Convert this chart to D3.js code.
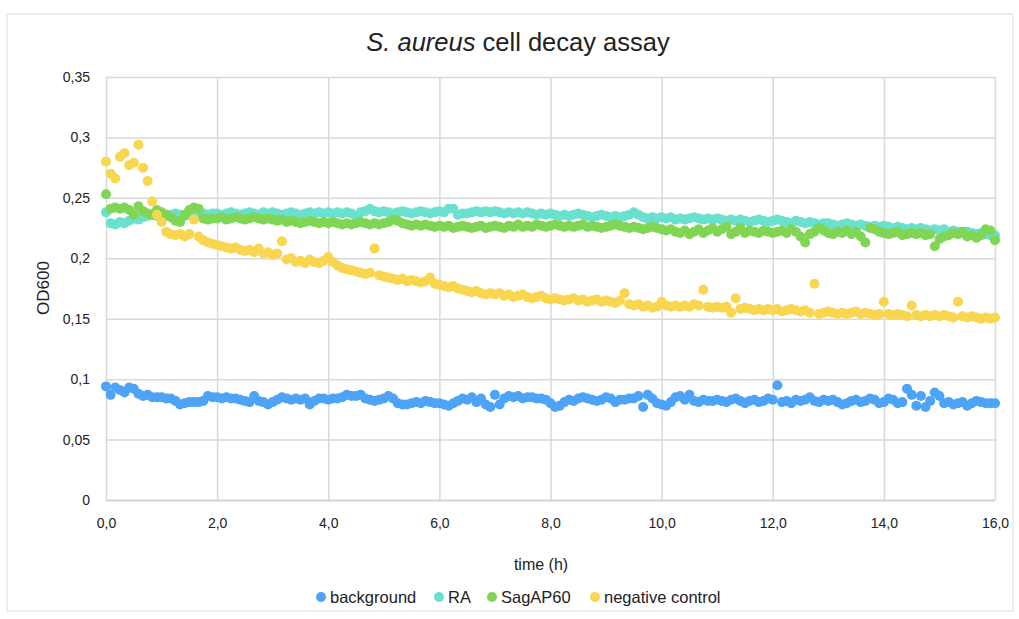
<!DOCTYPE html>
<html>
<head>
<meta charset="utf-8">
<script src="https://cdn.jsdelivr.net/npm/d3@7"></script>
<style>
  body { margin: 0; background: #fff; }
  text { font-family: "Liberation Sans", Arial, Helvetica, sans-serif; fill: #222; }
</style>
</head>
<body>
<svg id="chart" width="1019" height="619"></svg>
<script>
// measurement times (minutes)
const minutes = [
  0, 5, 10, 15, 20, 25, 30, 35, 40, 45, 50, 55,
  60, 65, 70, 75, 80, 85, 90, 95, 100, 105, 110, 115,
  120, 125, 130, 135, 140, 145, 150, 155, 160, 165, 170, 175,
  180, 185, 190, 195, 200, 205, 210, 215, 220, 225, 230, 235,
  240, 245, 250, 255, 260, 265, 270, 275, 280, 285, 290, 295,
  300, 305, 310, 315, 320, 325, 330, 335, 340, 345, 350, 355,
  360, 365, 370, 375, 380, 385, 390, 395, 400, 405, 410, 415,
  420, 425, 430, 435, 440, 445, 450, 455, 460, 465, 470, 475,
  480, 485, 490, 495, 500, 505, 510, 515, 520, 525, 530, 535,
  540, 545, 550, 555, 560, 565, 570, 575, 580, 585, 590, 595,
  600, 605, 610, 615, 620, 625, 630, 635, 640, 645, 650, 655,
  660, 665, 670, 675, 680, 685, 690, 695, 700, 705, 710, 715,
  720, 725, 730, 735, 740, 745, 750, 755, 760, 765, 770, 775,
  780, 785, 790, 795, 800, 805, 810, 815, 820, 825, 830, 835,
  840, 845, 850, 855, 860, 865, 870, 875, 880, 885, 890, 895,
  900, 905, 910, 915, 920, 925, 930, 935, 940, 945, 950, 955,
  960
];

const background = [
  0.094, 0.087, 0.093, 0.091, 0.089, 0.093, 0.092, 0.088, 0.086, 0.087, 0.085, 0.085,
  0.085, 0.084, 0.084, 0.082, 0.079, 0.080, 0.081, 0.081, 0.081, 0.082, 0.086, 0.085,
  0.085, 0.084, 0.085, 0.084, 0.084, 0.083, 0.082, 0.081, 0.086, 0.082, 0.081, 0.079,
  0.081, 0.083, 0.085, 0.084, 0.083, 0.084, 0.083, 0.084, 0.079, 0.082, 0.084, 0.084,
  0.083, 0.084, 0.084, 0.085, 0.087, 0.086, 0.086, 0.087, 0.084, 0.083, 0.082, 0.083,
  0.084, 0.086, 0.084, 0.080, 0.079, 0.079, 0.080, 0.081, 0.080, 0.082, 0.081, 0.080,
  0.080, 0.079, 0.078, 0.080, 0.082, 0.084, 0.083, 0.085, 0.081, 0.084, 0.079, 0.077,
  0.087, 0.079, 0.084, 0.086, 0.085, 0.086, 0.084, 0.085, 0.085, 0.084, 0.084, 0.083,
  0.080, 0.077, 0.078, 0.081, 0.083, 0.082, 0.084, 0.085, 0.084, 0.083, 0.082, 0.083,
  0.085, 0.084, 0.081, 0.083, 0.083, 0.084, 0.084, 0.086, 0.077, 0.087, 0.084, 0.080,
  0.079, 0.078, 0.081, 0.085, 0.086, 0.083, 0.087, 0.082, 0.081, 0.083, 0.082, 0.082,
  0.083, 0.082, 0.081, 0.083, 0.084, 0.082, 0.080, 0.082, 0.083, 0.081, 0.082, 0.084,
  0.083, 0.095, 0.081, 0.082, 0.080, 0.083, 0.082, 0.083, 0.085, 0.082, 0.081, 0.083,
  0.082, 0.083, 0.081, 0.079, 0.080, 0.082, 0.083, 0.081, 0.082, 0.084, 0.083, 0.080,
  0.081, 0.084, 0.083, 0.080, 0.081, 0.092, 0.087, 0.078, 0.086, 0.077, 0.082, 0.089,
  0.086, 0.080, 0.081, 0.079, 0.080, 0.081, 0.078, 0.080, 0.082, 0.081, 0.080, 0.080,
  0.080
];

const ra = [
  0.238, 0.229, 0.228, 0.230, 0.229, 0.231, 0.233, 0.232, 0.234, 0.235, 0.236, 0.235,
  0.236, 0.235, 0.236, 0.237, 0.236, 0.235, 0.236, 0.237, 0.236, 0.237, 0.236, 0.237,
  0.237, 0.236, 0.237, 0.238, 0.237, 0.236, 0.237, 0.238, 0.237, 0.236, 0.238, 0.237,
  0.238, 0.237, 0.236, 0.237, 0.238, 0.237, 0.236, 0.237, 0.238, 0.237, 0.238, 0.237,
  0.238, 0.237, 0.238, 0.237, 0.238, 0.237, 0.235, 0.238, 0.239, 0.241, 0.239, 0.238,
  0.239, 0.238, 0.237, 0.238, 0.239, 0.238, 0.237, 0.238, 0.239, 0.238, 0.237, 0.238,
  0.239, 0.238, 0.241, 0.241, 0.236, 0.237, 0.237, 0.238, 0.239, 0.238, 0.239, 0.238,
  0.239, 0.238, 0.237, 0.238, 0.237, 0.238, 0.237, 0.238, 0.237, 0.236, 0.237, 0.236,
  0.237, 0.236, 0.235, 0.236, 0.235, 0.236, 0.237, 0.236, 0.235, 0.234, 0.235, 0.236,
  0.235, 0.234, 0.235, 0.234, 0.235, 0.236, 0.238, 0.236, 0.234, 0.233, 0.234, 0.233,
  0.234, 0.233, 0.234, 0.232, 0.233, 0.232, 0.233, 0.234, 0.233, 0.232, 0.233, 0.232,
  0.233, 0.232, 0.231, 0.232, 0.231, 0.232, 0.231, 0.230, 0.231, 0.232, 0.231, 0.230,
  0.231, 0.232, 0.231, 0.230, 0.229, 0.231, 0.230, 0.229, 0.230, 0.229, 0.228, 0.229,
  0.229, 0.228, 0.227, 0.228, 0.229, 0.228, 0.227, 0.228, 0.227, 0.226, 0.227, 0.226,
  0.227, 0.226, 0.225, 0.226, 0.225, 0.224, 0.225, 0.224, 0.225, 0.224, 0.223, 0.224,
  0.223, 0.224, 0.222, 0.223, 0.222, 0.221, 0.222, 0.221, 0.220, 0.221, 0.220, 0.219,
  0.219
];

const sagAP60 = [
  0.253, 0.241, 0.242, 0.241, 0.242, 0.240, 0.236, 0.243, 0.239, 0.237, 0.236, 0.240,
  0.238, 0.236, 0.234, 0.231, 0.230, 0.236, 0.240, 0.242, 0.241, 0.233, 0.232, 0.233,
  0.233, 0.234, 0.232, 0.233, 0.234, 0.233, 0.232, 0.233, 0.234, 0.233, 0.232, 0.233,
  0.232, 0.231, 0.232, 0.230, 0.231, 0.230, 0.229, 0.230, 0.231, 0.230, 0.229, 0.230,
  0.229, 0.230, 0.229, 0.228, 0.229, 0.228, 0.229, 0.230, 0.229, 0.228, 0.229, 0.228,
  0.229, 0.230, 0.232, 0.231, 0.229, 0.228, 0.227, 0.228, 0.227, 0.228, 0.227, 0.226,
  0.227, 0.226, 0.227, 0.225, 0.226, 0.227, 0.226, 0.225, 0.226, 0.227, 0.225, 0.226,
  0.227, 0.226, 0.225, 0.227, 0.226, 0.228, 0.226, 0.227, 0.226, 0.228, 0.227, 0.226,
  0.227, 0.228, 0.227, 0.226, 0.227, 0.226, 0.227, 0.228, 0.226, 0.227, 0.226, 0.225,
  0.226, 0.227, 0.228, 0.227, 0.226, 0.225, 0.226, 0.225, 0.224, 0.225, 0.226, 0.225,
  0.224, 0.223, 0.224, 0.222, 0.221, 0.223, 0.220, 0.222, 0.224, 0.221, 0.223, 0.225,
  0.222, 0.224, 0.226, 0.220, 0.222, 0.225, 0.221, 0.223, 0.222, 0.221, 0.223, 0.222,
  0.221, 0.222, 0.223, 0.221, 0.224, 0.222, 0.218, 0.213, 0.220, 0.222, 0.225, 0.223,
  0.221, 0.220, 0.222, 0.221, 0.223, 0.220, 0.222, 0.218, 0.213, 0.225, 0.224, 0.222,
  0.221, 0.220, 0.221, 0.222, 0.219, 0.220, 0.221, 0.220, 0.221, 0.219, 0.220, 0.210,
  0.216, 0.218, 0.219, 0.221, 0.220, 0.222, 0.218, 0.219, 0.217, 0.219, 0.224, 0.223,
  0.215
];

const negativeControl = [
  0.280, 0.270, 0.266, 0.284, 0.287, 0.277, 0.279, 0.294, 0.275, 0.264, 0.247, 0.236,
  0.230, 0.222, 0.220, 0.219, 0.220, 0.218, 0.220, 0.232, 0.218, 0.215, 0.213, 0.212,
  0.211, 0.210, 0.209, 0.208, 0.209, 0.207, 0.206, 0.207, 0.205, 0.208, 0.204, 0.205,
  0.203, 0.204, 0.214, 0.199, 0.200, 0.197, 0.198, 0.196, 0.199, 0.197, 0.196, 0.198,
  0.201, 0.197, 0.194, 0.192, 0.191, 0.190, 0.189, 0.188, 0.187, 0.188, 0.208, 0.186,
  0.185, 0.184, 0.183, 0.182, 0.183, 0.181, 0.182, 0.181, 0.180, 0.181, 0.184, 0.179,
  0.178, 0.177, 0.176, 0.177, 0.175, 0.174, 0.173, 0.172, 0.173, 0.171, 0.170, 0.171,
  0.170, 0.171, 0.169, 0.170, 0.168, 0.169, 0.170, 0.168, 0.167, 0.168, 0.169, 0.167,
  0.166, 0.167, 0.166, 0.165, 0.166, 0.167, 0.165, 0.166, 0.164, 0.165, 0.166, 0.164,
  0.165, 0.164, 0.163, 0.165, 0.171, 0.162, 0.161, 0.162, 0.160, 0.161, 0.159, 0.160,
  0.164, 0.161, 0.160, 0.161, 0.160, 0.161, 0.160, 0.162, 0.161, 0.174, 0.160, 0.159,
  0.160, 0.159, 0.160, 0.155, 0.167, 0.158, 0.159, 0.158, 0.157, 0.158, 0.157, 0.158,
  0.157, 0.158, 0.156, 0.157, 0.158, 0.157, 0.156, 0.157, 0.155, 0.179, 0.154, 0.155,
  0.156, 0.155, 0.154, 0.155, 0.154, 0.155, 0.156, 0.154, 0.155, 0.154, 0.153, 0.154,
  0.164, 0.154, 0.153, 0.154, 0.153, 0.152, 0.161, 0.153, 0.152, 0.153, 0.152, 0.153,
  0.152, 0.153, 0.152, 0.151, 0.164, 0.152, 0.151, 0.152, 0.151, 0.150, 0.151, 0.150,
  0.151
];

const seriesNames = ['background', 'RA', 'SagAP60', 'negative control'];
const seriesColors = ['#4da3f5', '#6ae0cf', '#80d654', '#f8d650'];
const xTicks = [0, 2, 4, 6, 8, 10, 12, 14, 16];
const yTicks = [0, 0.05, 0.1, 0.15, 0.2, 0.25, 0.3, 0.35];

const series = [background, ra, sagAP60, negativeControl];

const svg = d3.select('#chart');
const margin = { top: 77, right: 24, bottom: 119, left: 106 };
const width = 1019 - margin.left - margin.right;
const height = 619 - margin.top - margin.bottom;

// outer frame
svg.append('rect')
  .attr('x', 7).attr('y', 14)
  .attr('width', 1006).attr('height', 597)
  .attr('fill', '#fff')
  .attr('stroke', '#dcdcdc')
  .attr('stroke-width', 1);

const g = svg.append('g')
  .attr('transform', `translate(${margin.left},${margin.top})`);

const x = d3.scaleLinear().domain([0, 16]).range([0, width]);
const y = d3.scaleLinear().domain([0, 0.35]).range([height, 0]);

const comma = (s) => s.replace('.', ',');

// Add grid
g.append('g')
  .attr('class', 'grid')
  .call(d3.axisLeft(y).tickValues(yTicks).tickSize(-width).tickFormat(() => ''))
  .call(a => a.select('.domain').remove())
  .selectAll('line')
  .attr('stroke', '#d9d9d9')
  .attr('stroke-width', 1.5);

g.append('g')
  .attr('class', 'grid')
  .attr('transform', `translate(0,${height})`)
  .call(d3.axisBottom(x).tickValues(xTicks).tickSize(-height).tickFormat(() => ''))
  .call(a => a.select('.domain').remove())
  .selectAll('line')
  .attr('stroke', '#d9d9d9')
  .attr('stroke-width', 1.5);

// Add X axis
const xAxis = g.append('g')
  .attr('transform', `translate(0,${height})`)
  .call(d3.axisBottom(x).tickValues(xTicks).tickSize(0).tickPadding(18)
    .tickFormat(d => comma(d3.format('.1f')(d))));
xAxis.select('.domain').attr('stroke', '#cfcfcf').attr('stroke-width', 1.5);
xAxis.selectAll('text').style('font-size', '14px').attr('fill', '#222');

// Add Y axis
const yAxis = g.append('g')
  .call(d3.axisLeft(y).tickValues(yTicks).tickSize(0).tickPadding(16)
    .tickFormat(d => comma(String(+d.toFixed(2)))));
yAxis.select('.domain').remove();
yAxis.selectAll('text').style('font-size', '14px').attr('fill', '#222');

// Add points
series.forEach((values, si) => {
  g.append('g')
    .selectAll('circle')
    .data(values)
    .enter()
    .append('circle')
    .attr('cx', (d, i) => x(minutes[i] / 60))
    .attr('cy', d => y(d))
    .attr('r', 5)
    .attr('fill', seriesColors[si]);
});

// Title
const title = svg.append('text')
  .attr('x', 518)
  .attr('y', 51)
  .attr('text-anchor', 'middle')
  .style('font-size', '25.5px');
title.append('tspan').style('font-style', 'italic').text('S. aureus');
title.append('tspan').text(' cell decay assay');

// Axis labels
svg.append('text')
  .attr('transform', 'translate(49,288) rotate(-90)')
  .attr('text-anchor', 'middle')
  .style('font-size', '17px')
  .text('OD600');

svg.append('text')
  .attr('x', 541)
  .attr('y', 570)
  .attr('text-anchor', 'middle')
  .style('font-size', '16px')
  .text('time (h)');

// Legend
const legendX = [330, 448, 501, 604];
const legend = svg.append('g');
seriesNames.forEach((name, i) => {
  legend.append('circle')
    .attr('cx', legendX[i] - 9)
    .attr('cy', 597)
    .attr('r', 5)
    .attr('fill', seriesColors[i]);
  legend.append('text')
    .attr('x', legendX[i])
    .attr('y', 603)
    .style('font-size', '16.5px')
    .text(name);
});
</script>
</body>
</html>
